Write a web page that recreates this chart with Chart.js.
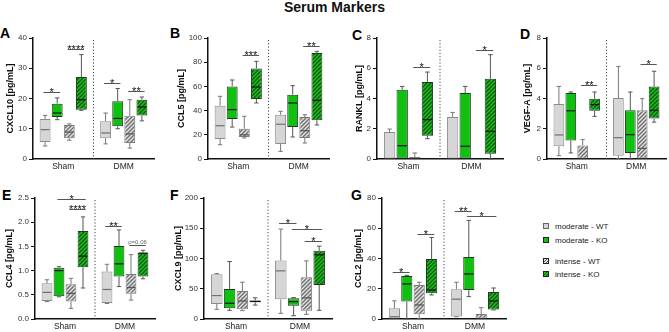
<!DOCTYPE html>
<html>
<head>
<meta charset="utf-8">
<script src="https://cdn.jsdelivr.net/npm/chart.js@4/dist/chart.umd.min.js"></script>
<style>
  body { margin: 0; background: #fff; width: 669px; height: 332px; position: relative; overflow: hidden; font-family: 'Liberation Sans', Arial, sans-serif; }
  canvas { position: absolute; }
  .letter { position: absolute; font-weight: bold; font-size: 14px; line-height: 14px; color: #000; }
  #title { position: absolute; left: 0; top: 0; width: 669px; text-align: center; font-weight: bold; font-size: 14px; line-height: 14px; color: #111; }
  .legend { position: absolute; left: 543px; font-size: 8px; line-height: 10px; color: #222; white-space: nowrap; }
  .sw { display: inline-block; width: 4px; height: 4px; border: 1px solid #222; margin-right: 6px; vertical-align: 0px; }
</style>
</head>
<body>
<div id="title">Serum Markers</div>
<div class="letter" style="left:0px;top:26px">A</div>
<div class="letter" style="left:170px;top:26px">B</div>
<div class="letter" style="left:352px;top:28px">C</div>
<div class="letter" style="left:520px;top:27px">D</div>
<div class="letter" style="left:2px;top:188px">E</div>
<div class="letter" style="left:170px;top:188px">F</div>
<div class="letter" style="left:351px;top:188px">G</div>

<div class="legend" style="top:222px"><span class="sw" style="background:#d6d6d6;border-color:#666"></span>moderate - WT</div>
<div class="legend" style="top:236px"><span class="sw" style="background:#10c010"></span>moderate - KO</div>
<div class="legend" style="top:257px"><span class="sw" style="background:repeating-linear-gradient(-45deg,#e0e0e0 0 1px,#5d5d5d 1px 2px)"></span>intense - WT</div>
<div class="legend" style="top:270px"><span class="sw" style="background:repeating-linear-gradient(-45deg,#1fbf1f 0 1px,#0b5d0b 1px 2px)"></span>intense - KO</div>

<script>
Chart.defaults.font.family = "'Liberation Sans', Arial, sans-serif";

const groups = ['Sham', 'DMM'];
const seriesNames = ['moderate - WT', 'moderate - KO', 'intense - WT', 'intense - KO'];

// box stats [min, q1, median, q3, max], per series: [Sham, DMM]
const cxcl10 = [
  [[4.3, 5.6, 9.7, 13.2, 14.4], [5.0, 6.9, 8.6, 12.5, 15.2]],
  [[13.0, 13.9, 15.2, 18.3, 20.2], [10.0, 10.8, 13.4, 19.1, 23.3]],
  [[6.2, 6.9, 8.9, 11.2, 11.6], [3.6, 5.3, 8.3, 14.3, 19.6]],
  [[16.1, 16.3, 19.6, 27.1, 34.5], [12.6, 14.4, 17.2, 19.6, 20.5]]
];
const ccl5 = [
  [[11.8, 16.5, 27.5, 44, 51.8], [6.3, 12.4, 28.7, 36.6, 39.4]],
  [[26.4, 33, 40.8, 60, 65.3], [18.2, 26.4, 46.3, 53.2, 60.6]],
  [[17.4, 18.2, 20, 25, 35.3], [13.2, 17.4, 23.4, 34.7, 36.6]],
  [[46.3, 49.6, 59.5, 74.7, 80.7], [28.1, 32, 48.5, 87.6, 89]]
];
const rankl = [
  [[0, 0, 0, 1.78, 1.98], [0, 0, 0, 2.78, 3.08]],
  [[0, 0, 0.88, 4.58, 4.8], [0, 0, 0.84, 4.36, 4.8]],
  [[0, 0, 0, 0.13, 0.4], [0, 0, 0, 0, 0]],
  [[1.34, 1.54, 2.6, 5.09, 5.75], [0, 0.35, 1.83, 5.3, 6.9]]
];
const vegfa = [
  [[0.22, 0.84, 1.59, 3.63, 4.8], [0, 0.22, 1.41, 4.03, 6.12]],
  [[0.4, 1.23, 3.19, 4.36, 4.43], [0, 0.4, 1.61, 3.22, 4.43]],
  [[0, 0, 0, 0.9, 1.28], [0, 0, 0.7, 3.22, 3.99]],
  [[2.82, 3.19, 3.59, 3.99, 4.43], [2.44, 2.67, 3.22, 4.8, 5.8]]
];
const ccl4 = [
  [[0.36, 0.37, 0.55, 0.74, 0.81], [0.32, 0.33, 0.61, 0.98, 1.13]],
  [[0.46, 0.47, 1.0, 1.06, 1.08], [0.67, 0.88, 1.14, 1.51, 1.84]],
  [[0.22, 0.36, 0.53, 0.72, 0.84], [0.39, 0.52, 0.65, 0.93, 1.33]],
  [[0.64, 1.07, 1.3, 1.82, 2.11], [0.83, 0.88, 1.36, 1.37, 1.42]]
];
const cxcl9 = [
  [[16, 24.9, 38.7, 74, 75], [9.4, 32.6, 79.6, 96.7, 148.6]],
  [[14.4, 17.7, 26, 49.7, 95], [5.5, 22.1, 28.7, 34.3, 35.4]],
  [[13.8, 16, 29.8, 46.4, 60.8], [7.7, 13.8, 35, 69, 96]],
  [[23, 27.5, 29, 30.5, 35], [14.4, 56.4, 106, 112.7, 120.4]]
];
const ccl2 = [
  [[0, 0, 1.5, 7.1, 12], [1.5, 1.6, 13.1, 19.7, 24.3]],
  [[0, 11.5, 23.2, 28.5, 28.9], [14.8, 19.2, 29.8, 41, 65.2]],
  [[0, 3.1, 9.3, 22.5, 24.3], [0, 0, 0, 3.3, 7.5]],
  [[15.9, 17, 19.2, 39.6, 53.9], [6, 6.2, 11.9, 17.9, 20.5]]
];

// y tick labels
const cxcl10Ticks = [0, 10, 20, 30, 40];
const ccl5Ticks = [0, 20, 40, 60, 80, 100];
const ranklTicks = [0, 2, 4, 6, 8];
const vegfaTicks = [0, 2, 4, 6, 8];
const ccl4Ticks = [0, 0.5, 1.0, 1.5, 2.0, 2.5];
const cxcl9Ticks = [0, 50, 100, 150, 200];
const ccl2Ticks = [0, 20, 40, 60, 80];

// significance: [group, series a, series b, level, label]
const cxcl10Sig = [[0, 0, 1, 22, '*'], [0, 2, 3, 36.3, '****'], [1, 0, 1, 25.1, '*'], [1, 2, 3, 22.4, '**']];
const ccl5Sig = [[0, 2, 3, 86, '***'], [1, 2, 3, 93, '**']];
const ranklSig = [[0, 2, 3, 6.1, '*'], [1, 2, 3, 7.2, '*']];
const vegfaSig = [[0, 2, 3, 4.87, '**'], [1, 2, 3, 6.28, '*']];
const ccl4Sig = [[0, 1, 3, 2.48, '*'], [0, 2, 3, 2.27, '****'], [1, 0, 1, 1.93, '**'], [1, 2, 3, 1.53, 'p=0.06']];
const cxcl9Sig = [[1, 0, 1, 158.6, '*'], [1, 1, 3, 149, '*'], [1, 2, 3, 129, '*']];
const ccl2Sig = [[0, 0, 1, 31.4, '*'], [0, 2, 3, 56.4, '*'], [1, 0, 1, 71.2, '**'], [1, 1, 3, 67.8, '*']];

function hatch(base, line) {
  const c = document.createElement('canvas');
  c.width = 4; c.height = 4;
  const g = c.getContext('2d');
  g.fillStyle = base;
  g.fillRect(0, 0, 4, 4);
  g.strokeStyle = line;
  g.lineWidth = 1.4;
  g.beginPath();
  g.moveTo(-1, 5); g.lineTo(5, -1);
  g.moveTo(-1, 1); g.lineTo(1, -1);
  g.moveTo(3, 5); g.lineTo(5, 3);
  g.stroke();
  return g.createPattern(c, 'repeat');
}

const fills = ['#d6d6d6', '#10c010', hatch('#e2e2e2', '#6e6e6e'), hatch('#1fbf1f', '#0b5d0b')];
const edges = ['#8c8c8c', '#1e3a1e', '#7a7a7a', '#1e3a1e'];
const mids = ['#707070', '#111', '#555', '#111'];
const whisk = ['#777', '#555', '#777', '#555'];

const boxPlugin = {
  id: 'boxes',
  afterDatasetsDraw(chart) {
    const ctx = chart.ctx, y = chart.scales.y;
    chart.data.datasets.forEach((ds, d) => {
      chart.getDatasetMeta(d).data.forEach((bar, i) => {
        const [mn, q1, md, q3, mx] = ds.stats[i];
        const x = bar.x, half = bar.width / 2, cap = bar.width * 0.2;
        ctx.save();
        ctx.lineWidth = 1;
        ctx.strokeStyle = whisk[d];
        ctx.beginPath();
        if (mx > q3) {
          ctx.moveTo(x, y.getPixelForValue(q3));
          ctx.lineTo(x, y.getPixelForValue(mx));
          ctx.moveTo(x - cap, y.getPixelForValue(mx));
          ctx.lineTo(x + cap, y.getPixelForValue(mx));
        }
        if (mn < q1) {
          ctx.moveTo(x, y.getPixelForValue(q1));
          ctx.lineTo(x, y.getPixelForValue(mn));
          ctx.moveTo(x - cap, y.getPixelForValue(mn));
          ctx.lineTo(x + cap, y.getPixelForValue(mn));
        }
        ctx.stroke();
        if (md > q1 && md < q3) {
          ctx.strokeStyle = mids[d];
          ctx.lineWidth = 1.2;
          ctx.beginPath();
          ctx.moveTo(x - half + 1, y.getPixelForValue(md));
          ctx.lineTo(x + half - 1, y.getPixelForValue(md));
          ctx.stroke();
        }
        ctx.restore();
      });
    });
  },
  afterDraw(chart) {
    const {ctx, chartArea} = chart;
    const y = chart.scales.y;
    const mid = (chartArea.left + chartArea.right) / 2;
    ctx.save();
    ctx.strokeStyle = '#444';
    ctx.lineWidth = 1;
    ctx.setLineDash([1.2, 2]);
    ctx.beginPath();
    ctx.moveTo(mid, chartArea.top + 2);
    ctx.lineTo(mid, chartArea.bottom);
    ctx.stroke();
    ctx.setLineDash([]);
    chart.options.sig.forEach(([g, a, b, v, label]) => {
      const ba = chart.getDatasetMeta(a).data[g];
      const bb = chart.getDatasetMeta(b).data[g];
      const x1 = ba.x - ba.width * 0.15, x2 = bb.x + bb.width * 0.25;
      const py = Math.round(y.getPixelForValue(v)) + 0.5;
      ctx.strokeStyle = '#555';
      ctx.lineWidth = 1;
      ctx.beginPath();
      ctx.moveTo(x1, py);
      ctx.lineTo(x2, py);
      ctx.stroke();
      ctx.textAlign = 'center';
      ctx.textBaseline = 'alphabetic';
      if (label.startsWith('p')) {
        ctx.fillStyle = '#666';
        ctx.font = "6px 'Liberation Sans', Arial, sans-serif";
        ctx.fillText(label, (x1 + x2) / 2, py - 2);
      } else {
        ctx.fillStyle = '#111';
        ctx.font = "11px 'Liberation Sans', Arial, sans-serif";
        ctx.fillText(label, (x1 + x2) / 2, py + 3);
      }
    });
    ctx.restore();
  }
};

function panel(box, title, stats, ticks, sig, fmt) {
  const cv = document.createElement('canvas');
  cv.width = box.w;
  cv.height = box.h;
  cv.style.left = box.x + 'px';
  cv.style.top = box.y + 'px';
  document.body.appendChild(cv);
  new Chart(cv, {
    type: 'bar',
    data: {
      labels: groups,
      datasets: seriesNames.map((name, s) => ({
        label: name,
        data: stats[s].map(b => [b[1], b[3]]),
        stats: stats[s],
        backgroundColor: fills[s],
        borderColor: edges[s],
        borderWidth: 1,
        borderSkipped: false,
        barPercentage: 0.9,
        categoryPercentage: 0.8
      }))
    },
    options: {
      sig: sig,
      responsive: false,
      animation: false,
      devicePixelRatio: 1,
      events: [],
      layout: { padding: { top: box.pt, right: 2, left: 0, bottom: 0 } },
      plugins: { legend: { display: false }, tooltip: { enabled: false } },
      scales: {
        x: {
          grid: { display: false, drawTicks: false },
          border: { display: true, color: '#111', width: 1.5 },
          ticks: { color: '#222', font: { size: 8.5 }, padding: 3, maxRotation: 0 },
          afterFit(s) { s.height = box.xh; }
        },
        y: {
          min: ticks[0],
          max: ticks[ticks.length - 1],
          grid: { drawOnChartArea: false, drawTicks: true, tickLength: 4, color: '#111', lineWidth: 1 },
          border: { display: true, color: '#111', width: 1.5 },
          ticks: { stepSize: ticks[1] - ticks[0], color: '#333', font: { size: 8 }, padding: 2, callback: v => fmt(v) },
          title: { display: true, text: title, color: '#111', font: { size: 9, weight: 'bold' }, padding: { top: 4, bottom: 0 } },
          afterFit(s) { s.width = box.yw; }
        }
      }
    },
    plugins: [boxPlugin]
  });
}

const plain = v => String(v);
const oneDec = v => v.toFixed(1);

panel({ x: 1, y: 20, w: 155, h: 155, pt: 18, xh: 16, yw: 32 }, 'CXCL10 [pg/mL]', cxcl10, cxcl10Ticks, cxcl10Sig, plain);
panel({ x: 172, y: 20, w: 159, h: 155, pt: 18, xh: 16, yw: 36 }, 'CCL5 [pg/mL]', ccl5, ccl5Ticks, ccl5Sig, plain);
panel({ x: 350, y: 20, w: 155, h: 155, pt: 18, xh: 16, yw: 27 }, 'RANKL [pg/mL]', rankl, ranklTicks, ranklSig, plain);
panel({ x: 518, y: 20, w: 150, h: 155, pt: 18, xh: 16, yw: 29 }, 'VEGF-A [pg/mL]', vegfa, vegfaTicks, vegfaSig, plain);
panel({ x: 0, y: 180, w: 157, h: 152, pt: 18, xh: 13, yw: 35 }, 'CCL4 [pg/mL]', ccl4, ccl4Ticks, ccl4Sig, oneDec);
panel({ x: 169, y: 180, w: 165, h: 152, pt: 18, xh: 13, yw: 35 }, 'CXCL9 [pg/mL]', cxcl9, cxcl9Ticks, cxcl9Sig, plain);
panel({ x: 349, y: 180, w: 159, h: 152, pt: 18, xh: 13, yw: 33 }, 'CCL2 [pg/mL]', ccl2, ccl2Ticks, ccl2Sig, plain);
</script>
</body>
</html>
